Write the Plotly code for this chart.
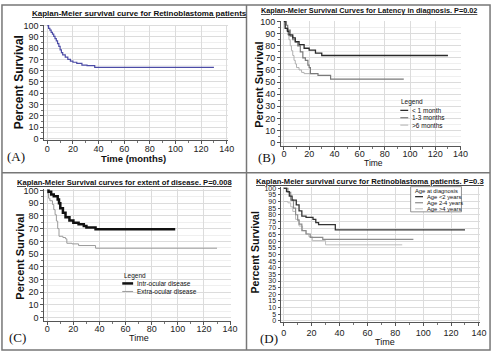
import plotly.graph_objects as go

# ---------------- DATA ----------------
# Panel A: overall KM curve
a_time = [0, 1, 2, 3, 4, 5, 6, 7, 8, 9, 10, 11, 12, 14, 16, 18, 20, 23, 27, 31, 37, 130]
a_surv = [100, 97.5, 96, 94, 92.5, 90.5, 88.5, 86.5, 84, 81.5, 78.5, 76, 74, 72, 70, 68.5, 67.5, 66.5, 65, 64.5, 63, 63]

# Panel B: latency in diagnosis
b_names = ["< 1 month", "1-3 months", ">6 months"]
b_lt1_time = [0, 1, 3, 4, 7, 9, 12, 16, 20, 25, 30, 130]
b_lt1_surv = [100, 94.5, 92, 89, 86.5, 83.5, 81, 78, 76.5, 74, 72, 72]
b_13_time = [0, 2, 3, 5, 7, 9, 11, 13, 15, 17, 19, 20, 21, 27, 37, 95]
b_13_surv = [100, 97, 93, 88, 85, 83, 80, 75, 70, 68, 64, 62, 57, 55.5, 52.5, 52.5]
b_gt6_time = [0, 1, 2, 3, 4, 5, 6, 7, 8, 9, 10, 12, 14, 16, 25]
b_gt6_surv = [98, 95, 92, 89, 85, 80, 76, 72, 68, 65, 62, 60, 58, 57, 57]

# Panel C: extent of disease
c_names = ["Intr-ocular disease", "Extra-ocular disease"]
c_intra_time = [0, 1, 3, 5, 8, 9, 10, 12, 14, 17, 20, 24, 28, 30, 37, 98]
c_intra_surv = [100, 99, 97, 95.5, 93, 90, 86, 82.5, 79, 76.5, 74.7, 73.5, 72, 71, 69.5, 69.5]
c_extra_time = [0, 1, 2, 4, 5, 6, 7, 8, 9, 12, 14, 15, 19, 24, 37, 130]
c_extra_surv = [98, 94, 92, 89, 85, 81, 76, 70, 64, 63, 62, 58.5, 58, 56.7, 54.6, 54.6]

# Panel D: age at diagnosis
d_legend_title = "Age at diagnosis"
d_names = ["Age <2 years", "Age 2-4 years", "Age >4 years"]
d_lt2_time = [0, 2, 4, 6, 9, 11, 13, 16, 21, 23, 25, 37, 130]
d_lt2_surv = [100, 97.5, 94, 91, 87.5, 83, 79, 78, 76.5, 74, 72.5, 68.6, 68.6]
d_24_time = [0, 3, 5, 7, 8.5, 10, 11, 13, 16, 19, 28, 93]
d_24_surv = [100, 97, 91, 85, 80, 76, 73, 68, 65.5, 63, 61.5, 61.5]
d_gt4_time = [0, 3, 5, 6.5, 8.5, 11, 13.5, 16, 18, 20.5, 30, 85]
d_gt4_surv = [90, 89, 86, 82.5, 76.5, 71.5, 68, 65.5, 63.5, 60.5, 57.3, 57.3]

titles = [
    "Kaplan-Meier survival curve for Retinoblastoma patients",
    "Kaplan-Meier Survival Curves for Latency in diagnosis. P=0.02",
    "Kaplan-Meier Survival curves for extent of disease. P=0.008",
    "Kaplan-Meier survival curve for Retinoblastoma patients. P=0.3",
]
x_titles = ["Time (months)", "Time", "Time", "Time"]
y_title = "Percent Survival"
panel_tags = ["(A)", "(B)", "(C)", "(D)"]

# ---------------- HELPERS ----------------
W, H = 500, 358
SANS = "Liberation Sans, Arial, sans-serif"
SERIF = "Liberation Serif, Times New Roman, serif"


def px(p):
    return p / W


def py(p):
    return 1 - p / H


fig = go.Figure()


def add_line(x, y, axis, color, width):
    fig.add_trace(go.Scatter(x=x, y=y, mode="lines", line=dict(color=color, width=width, shape="hv"),
                             xaxis="x" + axis, yaxis="y" + axis, hoverinfo="skip"))


add_line(a_time, a_surv, "", "#4b4ba6", 1.2)
add_line(b_gt6_time, b_gt6_surv, "2", "#b0b0b0", 1.0)
add_line(b_13_time, b_13_surv, "2", "#7a7a7a", 1.2)
add_line(b_lt1_time, b_lt1_surv, "2", "#2a2a2a", 1.3)
add_line(c_extra_time, c_extra_surv, "3", "#9a9a9a", 1.0)
add_line(c_intra_time, c_intra_surv, "3", "#111111", 2.5)
add_line(d_gt4_time, d_gt4_surv, "4", "#bdbdbd", 1.0)
add_line(d_24_time, d_24_surv, "4", "#8c8c8c", 1.2)
add_line(d_lt2_time, d_lt2_surv, "4", "#333333", 1.3)


def xaxis(x0p, x1p, rng, anchor, standoff=-3):
    return dict(domain=[px(x0p), px(x1p)], range=rng, anchor=anchor, showline=True,
                linecolor="#555", linewidth=1, ticks="outside", ticklen=3, tickcolor="#555",
                tick0=0, dtick=20, showgrid=True, gridcolor="#dcdcdc", zeroline=False,
                ticklabelstandoff=standoff,
                tickfont=dict(family=SANS, size=9, color="#222"),
                minor=dict(dtick=10, tick0=0, ticks="outside", ticklen=2, tickcolor="#777",
                           showgrid=False))


def yaxis(y0p, y1p, rng, anchor, dtick=10, size=9, minor=5, ticklen=3):
    return dict(domain=[py(y1p), py(y0p)], range=rng, anchor=anchor, showline=True,
                linecolor="#555", linewidth=1, ticks="outside", ticklen=ticklen, tickcolor="#555",
                tick0=0, dtick=dtick, showgrid=True, gridcolor="#dcdcdc", zeroline=False,
                tickfont=dict(family=SANS, size=size, color="#222"),
                minor=dict(dtick=minor, tick0=0, ticks="outside", ticklen=2, tickcolor="#777",
                           showgrid=True, gridcolor="#efefef"))


layout = dict(
    width=W, height=H, margin=dict(l=0, r=0, t=0, b=0),
    paper_bgcolor="white", plot_bgcolor="white", showlegend=False,
    xaxis=xaxis(45, 231, [-2.3, 140.8], "y"),
    yaxis=yaxis(21, 139, [-1.7, 100.9], "x"),
    xaxis2=xaxis(285, 468, [-2.3, 140.7], "y2", standoff=-4),
    yaxis2=yaxis(17, 145, [-3, 100.8], "x2"),
    xaxis3=xaxis(45, 234, [-2.2, 140.5], "y3"),
    yaxis3=yaxis(189, 323, [-2.5, 101], "x3"),
    xaxis4=xaxis(284.5, 487, [-2.3, 140.9], "y4", standoff=-1),
    yaxis4=yaxis(187, 324.7, [-1.2, 100.7], "x4", dtick=5, size=7, minor=5, ticklen=2),
)
fig.update_layout(**layout)

ann = []


def text(x, y, s, size, bold=False, family=SANS, xanchor="center", angle=0, color="#111"):
    if bold:
        s = "<b>" + s + "</b>"
    ann.append(dict(x=px(x), y=py(y), xref="paper", yref="paper", text=s, showarrow=False,
                    xanchor=xanchor, yanchor="middle", textangle=angle,
                    font=dict(family=family, size=size, color=color)))


# titles
text(141, 10, "<u>" + titles[0] + "</u>", 8, bold=True)
text(374, 7, "<u>" + titles[1] + "</u>", 7.3, bold=True)
text(126, 182, "<u>" + titles[2] + "</u>", 7.6, bold=True)
text(375, 181, "<u>" + titles[3] + "</u>", 7.6, bold=True)

# axis titles
text(135, 157.5, x_titles[0], 9.5, bold=True)
text(379, 162, x_titles[1], 8.5)
text(141, 341, x_titles[2], 9)
text(390, 345, x_titles[3], 9)
text(20, 80, y_title, 12, bold=True, angle=-90)
text(263, 82, y_title, 11, bold=True, angle=-90)
text(20, 258, y_title, 11, bold=True, angle=-90)
text(259, 253, y_title, 10.5, bold=True, angle=-90)

# panel tags
text(16, 156, panel_tags[0], 13, family=SERIF)
text(270, 157, panel_tags[1], 13, family=SERIF)
text(18, 340, panel_tags[2], 13, family=SERIF)
text(273, 341, panel_tags[3], 13, family=SERIF)

shapes = []


def seg(x0, y0, x1, y1, color, width):
    shapes.append(dict(type="line", xref="paper", yref="paper", x0=px(x0), y0=py(y0), x1=px(x1),
                       y1=py(y1), line=dict(color=color, width=width)))


# legend B
text(405, 100, "Legend", 6.5, xanchor="left")
b_cols = [("#2a2a2a", 1.3), ("#7a7a7a", 1.2), ("#b0b0b0", 1.0)]
for i, (nm, (c, w)) in enumerate(zip(b_names, b_cols)):
    yy = 108.5 + 7.5 * i
    seg(406, yy, 414, yy, c, w)
    text(416, yy, nm, 6.5, xanchor="left")

# legend C
text(124, 277, "Legend", 6.5, xanchor="left")
c_cols = [("#111111", 2.5), ("#9a9a9a", 1.0)]
for i, (nm, (c, w)) in enumerate(zip(c_names, c_cols)):
    yy = 285 + 8.2 * i
    seg(124, yy, 135, yy, c, w)
    text(137, yy, nm, 6.5, xanchor="left")

# legend D (boxed)
shapes.append(dict(type="rect", xref="paper", yref="paper", x0=px(416.5), x1=px(468), y0=py(212),
                   y1=py(186.3), line=dict(color="#777", width=0.8), fillcolor="white"))
text(419, 190.8, d_legend_title, 5.8, xanchor="left")
d_cols = [("#333333", 1.3), ("#8c8c8c", 1.2), ("#bdbdbd", 1.0)]
for i, (nm, (c, w)) in enumerate(zip(d_names, d_cols)):
    yy = 196.5 + 6.2 * i
    seg(421, yy, 429, yy, c, w)
    text(431, yy, nm, 5.8, xanchor="left")

# panel frames
shapes.append(dict(type="rect", xref="paper", yref="paper", x0=px(2), x1=px(497), y0=py(353), y1=py(1),
                   line=dict(color="#777", width=1.5)))
seg(250, 1, 250, 353, "#777", 1.5)
seg(2, 172, 497, 172, "#777", 1.5)

fig.update_layout(annotations=ann, shapes=shapes)
fig.write_html("out.html", config={"displayModeBar": False},
               post_script="document.body.style.margin='0';document.body.style.padding='0';")
